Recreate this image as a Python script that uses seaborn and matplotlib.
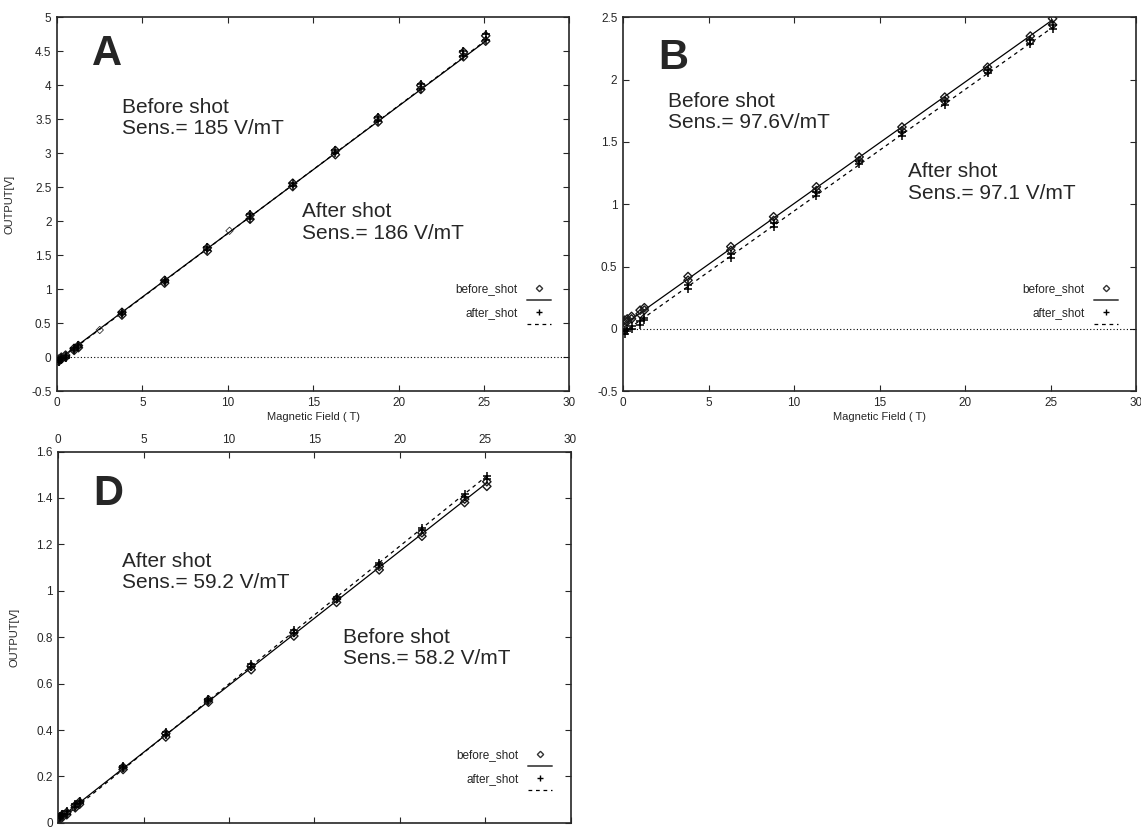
import numpy as np
import pandas as pd
import matplotlib
matplotlib.use("Agg")
import matplotlib.pyplot as plt
from matplotlib.ticker import FormatStrFormatter
from matplotlib.lines import Line2D
import seaborn as sns

# field values, each measured twice
field = [0.1, 0.1, 0.25, 0.25, 0.5, 0.5, 1.0, 1.0, 1.25, 1.25,
         3.8, 3.8, 6.3, 6.3, 8.8, 8.8, 11.3, 11.3, 13.8, 13.8,
         16.3, 16.3, 18.8, 18.8, 21.3, 21.3, 23.8, 23.8, 25.1, 25.1]

# panel A
a_before = [-0.06, -0.03, -0.03, 0.00, 0.00, 0.03, 0.10, 0.13, 0.14, 0.17,
            0.62, 0.66, 1.09, 1.13, 1.56, 1.61, 2.03, 2.09, 2.51, 2.56,
            2.98, 3.04, 3.46, 3.52, 3.94, 4.00, 4.42, 4.49, 4.65, 4.73]
a_after = [-0.07, -0.04, -0.04, -0.01, -0.01, 0.02, 0.11, 0.14, 0.15, 0.18,
           0.63, 0.67, 1.10, 1.14, 1.57, 1.62, 2.04, 2.10, 2.52, 2.57,
           3.00, 3.05, 3.47, 3.54, 3.95, 4.02, 4.43, 4.51, 4.66, 4.75]
a_extra_x = [2.5, 10.1]
a_extra_y = [0.40, 1.86]
a_fit_x = [0.0, 25.1]
a_fit_before = [-0.05, 4.65]
a_fit_after = [-0.06, 4.66]

# panel B
b_before = [0.05, 0.07, 0.06, 0.08, 0.08, 0.10, 0.12, 0.15, 0.15, 0.17,
            0.39, 0.42, 0.63, 0.66, 0.87, 0.90, 1.11, 1.14, 1.35, 1.38,
            1.59, 1.62, 1.83, 1.86, 2.07, 2.10, 2.31, 2.35, 2.44, 2.49]
b_after = [-0.04, -0.02, -0.02, 0.00, 0.00, 0.02, 0.03, 0.06, 0.07, 0.09,
           0.32, 0.35, 0.57, 0.60, 0.82, 0.85, 1.07, 1.10, 1.32, 1.35,
           1.55, 1.58, 1.80, 1.83, 2.05, 2.08, 2.29, 2.32, 2.41, 2.44]
b_fit_x = [0.0, 25.1]
b_fit_before = [0.03, 2.48]
b_fit_after = [-0.03, 2.42]

# panel D
d_before = [0.015, 0.025, 0.025, 0.035, 0.035, 0.045, 0.065, 0.075, 0.08, 0.09,
            0.23, 0.24, 0.37, 0.385, 0.52, 0.53, 0.66, 0.675, 0.805, 0.82,
            0.95, 0.965, 1.09, 1.105, 1.235, 1.25, 1.38, 1.395, 1.45, 1.47]
d_after = [0.02, 0.03, 0.03, 0.04, 0.04, 0.05, 0.07, 0.08, 0.085, 0.095,
           0.235, 0.245, 0.38, 0.39, 0.525, 0.535, 0.67, 0.685, 0.82, 0.83,
           0.965, 0.975, 1.11, 1.12, 1.26, 1.27, 1.405, 1.415, 1.48, 1.495]
d_fit_x = [0.0, 25.1]
d_fit_before = [0.015, 1.465]
d_fit_after = [0.005, 1.495]

sns.set_style("ticks")
plt.rcParams["font.family"] = ["Liberation Sans", "DejaVu Sans"]
plt.rcParams["axes.unicode_minus"] = False
plt.rcParams["xtick.direction"] = "in"
plt.rcParams["ytick.direction"] = "in"

fig = plt.figure(figsize=(11.41, 8.27), dpi=100)
axA = fig.add_axes([0.050, 0.527, 0.449, 0.452])
axB = fig.add_axes([0.546, 0.527, 0.450, 0.452])
axD = fig.add_axes([0.051, 0.005, 0.449, 0.449])


def panel(ax, before, after, fit_x, fit_b, fit_a, ylim, ystep, letter,
          txt1, pos1, txt2, pos2, leg_y, ylabel=True, top_labels=False):
    df = pd.DataFrame({"field": field, "before": before, "after": after})
    sns.scatterplot(data=df, x="field", y="before", ax=ax, marker="D", s=18,
                    facecolor="none", edgecolor="#1a1a1a", linewidth=1.0, zorder=3)
    sns.scatterplot(data=df, x="field", y="after", ax=ax, marker="+", s=32,
                    color="black", linewidth=1.1, zorder=3)
    sns.lineplot(x=fit_x, y=fit_b, ax=ax, color="black", lw=0.9)
    sns.lineplot(x=fit_x, y=fit_a, ax=ax, color="black", lw=0.9, linestyle=(0, (3, 3)))
    ax.axhline(0, color="black", lw=0.8, linestyle=(0, (1, 2)), zorder=1)
    ax.set_xlim(0, 30)
    ax.set_ylim(*ylim)
    ax.set_xticks(np.arange(0, 31, 5))
    ax.set_yticks(np.arange(ylim[0], ylim[1] + ystep / 2, ystep))
    ax.yaxis.set_major_formatter(FormatStrFormatter("%g"))
    ax.xaxis.set_major_formatter(FormatStrFormatter("%g"))
    ax.tick_params(axis="both", which="both", top=True, right=True, length=4,
                   width=0.8, labelsize=8.5, pad=4)
    if top_labels:
        ax.tick_params(axis="x", labeltop=True, labelbottom=False)
        ax.set_xlabel("")
    else:
        ax.set_xlabel("Magnetic Field ( T)", fontsize=8, labelpad=2)
    ax.set_ylabel("OUTPUT[V]" if ylabel else "", fontsize=8, labelpad=12)
    for s in ax.spines.values():
        s.set_visible(True)
        s.set_linewidth(1.2)
    ax.text(0.068, letter[1], letter[0], transform=ax.transAxes, fontsize=30,
            fontweight="bold", va="top", ha="left")
    ax.text(pos1[0], pos1[1], txt1, transform=ax.transAxes, fontsize=15,
            va="top", ha="left", linespacing=1.15)
    ax.text(pos2[0], pos2[1], txt2, transform=ax.transAxes, fontsize=15,
            va="top", ha="left", linespacing=1.15)
    handles = [Line2D([], [], marker="D", ls="none", ms=3.2, mfc="none", mec="#333333"),
               Line2D([], [], color="#555555", lw=1.4),
               Line2D([], [], marker="+", ls="none", ms=5, color="black"),
               Line2D([], [], color="black", lw=0.9, ls=(0, (3, 3)))]
    ax.legend(handles, ["before_shot", "", "after_shot", ""], loc="upper right",
              bbox_to_anchor=(0.975, leg_y), frameon=False, markerfirst=False,
              fontsize=8.5, labelspacing=0.0, handlelength=2.0, handletextpad=0.8,
              borderpad=0)


panel(axA, a_before, a_after, a_fit_x, a_fit_before, a_fit_after, (-0.5, 5), 0.5,
      ("A", 0.955), "Before shot\nSens.= 185 V/mT", (0.127, 0.785),
      "After shot\nSens.= 186 V/mT", (0.479, 0.505), 0.305)
sns.scatterplot(x=a_extra_x, y=a_extra_y, ax=axA, marker="D", s=14,
                facecolor="none", edgecolor="#333333", linewidth=0.6, zorder=3)

panel(axB, b_before, b_after, b_fit_x, b_fit_before, b_fit_after, (-0.5, 2.5), 0.5,
      ("B", 0.945), "Before shot\nSens.= 97.6V/mT", (0.088, 0.8),
      "After shot\nSens.= 97.1 V/mT", (0.556, 0.612), 0.305, ylabel=False)

panel(axD, d_before, d_after, d_fit_x, d_fit_before, d_fit_after, (0, 1.6), 0.2,
      ("D", 0.94), "After shot\nSens.= 59.2 V/mT", (0.125, 0.73),
      "Before shot\nSens.= 58.2 V/mT", (0.555, 0.525), 0.215, top_labels=True)

fig.savefig("out.png", dpi=100)
